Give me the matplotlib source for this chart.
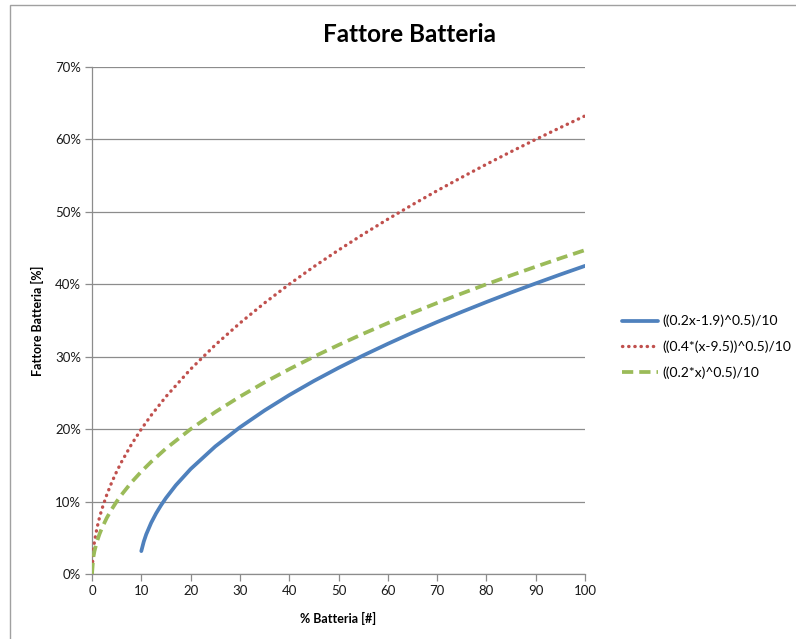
import matplotlib
matplotlib.use("Agg")
import matplotlib.pyplot as plt
from matplotlib.ticker import FuncFormatter, MultipleLocator
from matplotlib.patches import Rectangle

plt.rcParams['font.family'] = ['Lato', 'DejaVu Sans']

title = "Fattore Batteria"
xlabel = "% Batteria [#]"
ylabel = "Fattore Batteria [%]"
series_names = ["((0.2x-1.9)^0.5)/10", "((0.4*(x-9.5))^0.5)/10", "((0.2*x)^0.5)/10"]

# x positions (% Batteria) for the red and green curves
x_full = [0, 0.25, 0.5, 1, 1.5, 2, 3, 4, 5, 6, 8, 10, 12, 15, 20, 25, 30, 35, 40,
          45, 50, 55, 60, 65, 70, 75, 80, 85, 90, 95, 100]
# red dotted curve values (%)
red_vals = [0, 3.16, 4.47, 6.32, 7.75, 8.94, 10.95, 12.65, 14.14, 15.49, 17.89, 20.0,
            21.91, 24.49, 28.28, 31.62, 34.64, 37.42, 40.0, 42.43, 44.72, 46.90, 48.99,
            50.99, 52.92, 54.77, 56.57, 58.31, 60.0, 61.64, 63.25]
# green dashed curve values (%)
green_vals = [0, 2.24, 3.16, 4.47, 5.48, 6.32, 7.75, 8.94, 10.0, 10.95, 12.65, 14.14,
              15.49, 17.32, 20.0, 22.36, 24.49, 26.46, 28.28, 30.0, 31.62, 33.17, 34.64,
              36.06, 37.42, 38.73, 40.0, 41.23, 42.43, 43.59, 44.72]
# blue solid curve (starts at x = 10)
x_blue = [10, 10.5, 11, 12, 13, 14, 15, 17, 20, 25, 30, 35, 40, 45, 50, 55, 60, 65,
          70, 75, 80, 85, 90, 95, 100]
blue_vals = [3.16, 4.47, 5.48, 7.07, 8.37, 9.49, 10.49, 12.25, 14.49, 17.61, 20.25,
             22.58, 24.70, 26.65, 28.46, 30.17, 31.78, 33.32, 34.79, 36.19, 37.55,
             38.86, 40.12, 41.35, 42.54]

fig = plt.figure(figsize=(7.96, 6.39), dpi=100)
# chart frame (Excel style)
fig.patches.append(Rectangle((10/796, -0.1), 1.2, 1 - 5.5/639 + 0.1,
                             transform=fig.transFigure, fill=False,
                             edgecolor='#a0a0a0', linewidth=1.0))

ax = fig.add_axes([92/796, 1 - 574/639, (585 - 92)/796, (574 - 67)/639])

grid_c = '#8c8c8c'
ax.plot(x_blue, [v/100 for v in blue_vals], color='#4F81BD', lw=2.7,
        solid_capstyle='round', label=series_names[0], zorder=3)
ax.plot(x_full, [v/100 for v in red_vals], color='#C0504D', lw=2.4,
        linestyle=(0, (0.1, 1.75)), dash_capstyle='round', label=series_names[1], zorder=3)
ax.plot(x_full, [v/100 for v in green_vals], color='#9BBB59', lw=2.7,
        linestyle=(0, (3.0, 1.6)), dash_capstyle='butt', label=series_names[2], zorder=3)

ax.set_xlim(0, 100)
ax.set_ylim(0, 0.70)
ax.xaxis.set_major_locator(MultipleLocator(10))
ax.yaxis.set_major_locator(MultipleLocator(0.10))
ax.yaxis.set_major_formatter(FuncFormatter(lambda v, p: f"{v*100:.0f}%"))
ax.grid(axis='y', color=grid_c, linewidth=0.9)
ax.set_axisbelow(True)
for s in ['top', 'right']:
    ax.spines[s].set_visible(False)
for s in ['left', 'bottom']:
    ax.spines[s].set_color(grid_c)
    ax.spines[s].set_linewidth(0.9)
ax.tick_params(axis='both', direction='out', length=5, width=0.9, color=grid_c,
               labelsize=9.5, labelcolor='#1a1a1a', pad=3)

fig.text(410/796, 1 - 35/639, title, fontsize=17.5, fontweight='bold',
         ha='center', va='center')
ax.set_xlabel(xlabel, fontsize=9, fontweight='bold', labelpad=11)
ax.set_ylabel(ylabel, fontsize=9, fontweight='bold', labelpad=8)

leg = ax.legend(loc='center left', bbox_to_anchor=(1.05, 0.448), frameon=False,
                fontsize=10, handlelength=2.6, handletextpad=0.3, labelspacing=0.95)

fig.savefig("out.png", dpi=100)
